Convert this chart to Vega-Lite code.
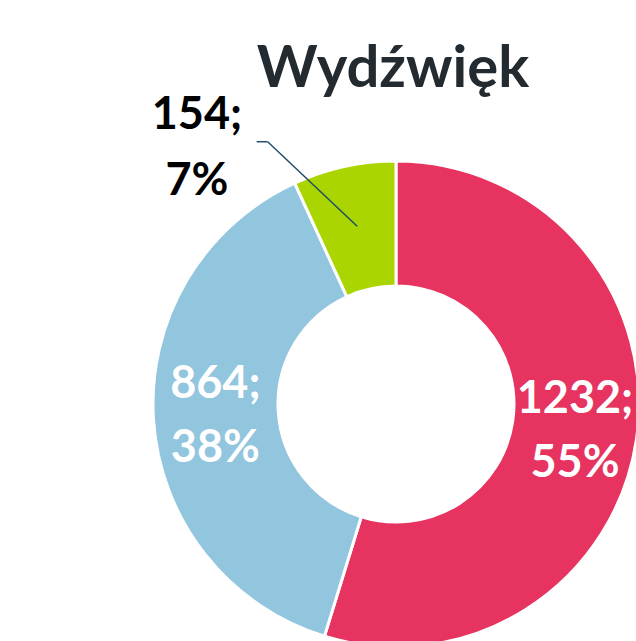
{
  "$schema": "https://vega.github.io/schema/vega-lite/v6.json",
  "width": 636,
  "height": 531,
  "autosize": {"type": "none"},
  "padding": {"left": 0, "right": 0, "top": 110, "bottom": 0},
  "background": "white",
  "config": {"view": {"stroke": null}},
  "title": {
    "text": "Wydźwięk",
    "font": "Lato",
    "fontSize": 58,
    "fontWeight": "bold",
    "color": "#232B31",
    "anchor": "middle",
    "frame": "group",
    "dx": 75,
    "offset": -6
  },
  "data": {
    "values": [
      {"sentyment": "Negatywny", "liczba": 1232, "etykieta": "1232;\n55%", "kolejnosc": 1},
      {"sentyment": "Neutralny", "liczba": 864, "etykieta": "864;\n38%", "kolejnosc": 2},
      {"sentyment": "Pozytywny", "liczba": 154, "etykieta": "154;\n7%", "kolejnosc": 3}
    ]
  },
  "layer": [
    {
      "mark": {"type": "arc", "innerRadius": 118, "outerRadius": 243, "x": 396, "y": 294, "stroke": "white", "strokeWidth": 3},
      "encoding": {
        "theta": {"field": "liczba", "type": "quantitative", "stack": true},
        "order": {"field": "kolejnosc", "type": "quantitative"},
        "color": {
          "field": "sentyment",
          "type": "nominal",
          "scale": {"domain": ["Negatywny", "Neutralny", "Pozytywny"], "range": ["#E6335F", "#92C5DE", "#AAD500"]},
          "legend": null
        }
      }
    },
    {
      "mark": {"type": "text", "x": 396, "y": 294, "radius": 181, "dy": -32, "font": "Lato", "fontSize": 45, "fontWeight": "bold", "lineBreak": "\n", "lineHeight": 64, "color": "white", "baseline": "middle", "align": "center"},
      "encoding": {
        "theta": {"field": "liczba", "type": "quantitative", "stack": true},
        "order": {"field": "kolejnosc", "type": "quantitative"},
        "text": {"condition": {"test": "datum.sentyment !== 'Pozytywny'", "field": "etykieta"}, "value": ""}
      }
    },
    {
      "mark": {"type": "text", "x": 396, "y": 294, "radius": 325, "dy": -32, "thetaOffset": -0.444, "font": "Lato", "fontSize": 45, "fontWeight": "bold", "lineBreak": "\n", "lineHeight": 66, "color": "black", "baseline": "middle", "align": "center"},
      "encoding": {
        "theta": {"field": "liczba", "type": "quantitative", "stack": true},
        "order": {"field": "kolejnosc", "type": "quantitative"},
        "text": {"condition": {"test": "datum.sentyment === 'Pozytywny'", "field": "etykieta"}, "value": ""}
      }
    },
    {
      "transform": [
        {"window": [{"op": "sum", "field": "liczba", "as": "cum"}], "sort": [{"field": "kolejnosc", "order": "ascending"}]},
        {"joinaggregate": [{"op": "sum", "field": "liczba", "as": "total"}]},
        {"calculate": "2*PI*(datum.cum - datum.liczba/2)/datum.total", "as": "mid"},
        {"filter": "datum.sentyment === 'Pozytywny'"},
        {"calculate": "396 + 182*sin(datum.mid)", "as": "ax"},
        {"calculate": "294 - 182*cos(datum.mid)", "as": "ay"},
        {"calculate": "396 + 292*sin(datum.mid - 0.24)", "as": "bx"},
        {"calculate": "294 - 292*cos(datum.mid - 0.24)", "as": "by"},
        {"calculate": "datum.bx - 11", "as": "cx"}
      ],
      "layer": [
        {
          "mark": {"type": "rule", "color": "#1F4E6B", "strokeWidth": 1.5},
          "encoding": {
            "x": {"field": "ax", "type": "quantitative", "scale": null},
            "y": {"field": "ay", "type": "quantitative", "scale": null},
            "x2": {"field": "bx"},
            "y2": {"field": "by"}
          }
        },
        {
          "mark": {"type": "rule", "color": "#1F4E6B", "strokeWidth": 1.5},
          "encoding": {
            "x": {"field": "bx", "type": "quantitative", "scale": null},
            "x2": {"field": "cx"},
            "y": {"field": "by", "type": "quantitative", "scale": null}
          }
        }
      ]
    }
  ]
}
